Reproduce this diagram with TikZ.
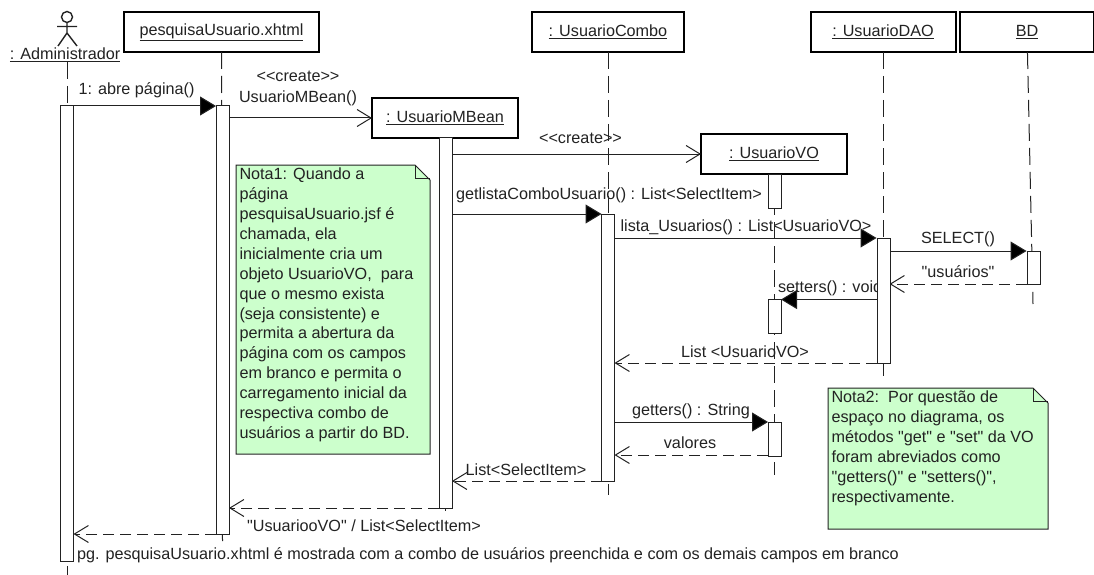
\documentclass[tikz,border=0pt]{standalone}
\usepackage{fontspec}
\newfontfamily\plainfont{Liberation Sans}
\usetikzlibrary{arrows.meta}
\definecolor{ink}{HTML}{222222}
\definecolor{notefill}{HTML}{CCFFCC}
\tikzset{
  x=1pt,y=-1pt,
  every node/.style={font=\plainfont\fontsize{16.2}{19.9}\selectfont,text=ink,inner sep=0pt,outer sep=0pt},
  headbox/.style={draw=black,line width=2pt,fill=white,rectangle},
  life/.style={draw=ink,line width=1pt,dash pattern=on 17pt off 7pt},
  activ/.style={draw=ink,line width=1pt,fill=white,rectangle,minimum width=13pt},
  callmsg/.style={draw=ink,line width=1pt,-{Triangle[length=16pt,width=19pt,fill=black]}},
  createmsg/.style={draw=ink,line width=1pt,-{Straight Barb[length=14pt,width=17pt,line width=1pt]}},
  retmsg/.style={draw=ink,line width=1pt,dash pattern=on 11pt off 6pt,-{Straight Barb[length=14pt,width=17pt,line width=1pt]}},
  notebody/.style={draw=ink,line width=1pt,fill=notefill},
  notetext/.style={anchor=north west,align=left},
}
\begin{document}
\begin{tikzpicture}
\useasboundingbox (0,0) rectangle (1094,575);
% heads
\node[headbox,minimum width=195pt,minimum height=40pt] (pes) at (221.5,32) {\underline{pesquisaUsuario.xhtml}};
\node[headbox,minimum width=146pt,minimum height=39pt] (mb) at (445,118) {\underline{: UsuarioMBean}};
\node[headbox,minimum width=152pt,minimum height=40pt] (combo) at (608,32) {\underline{: UsuarioCombo}};
\node[headbox,minimum width=146pt,minimum height=40pt] (vo) at (774,154) {\underline{: UsuarioVO}};
\node[headbox,minimum width=145pt,minimum height=40pt] (dao) at (883,32) {\underline{: UsuarioDAO}};
\node[headbox,minimum width=134pt,minimum height=40pt] (bd) at (1027,32) {\underline{BD}};
% actor
\node (adm) at (65,55) {\underline{: Administrador}};
\coordinate (head) at (67,17);
\draw[line width=1.4pt,draw=ink] (head) circle (5.5pt);
\draw[line width=1.4pt,draw=ink] (67,22.5) -- (67,33) (57,26.5) -- (77,26.5) (58,46) -- (67,33) -- (77,46);
% activation geometry
\coordinate (admT) at (67,106);
% lifelines
\coordinate (admEnd) at (67,575);
\coordinate (pesEnd) at (222.5,541);
\coordinate (mbEnd) at (445,511);
\coordinate (comEnd) at (608,495);
\coordinate (voEnd) at (774,475);
\coordinate (daoEnd) at (883,376);
\coordinate (bdEnd) at (1033,304);
\draw[life] (adm.south -| admT) -- (admEnd);
\draw[life] (pes) -- (pesEnd);
\draw[life] (mb) -- (mbEnd);
\draw[life] (combo) -- (comEnd);
\draw[life] (vo) -- (voEnd);
\draw[life] (dao) -- (daoEnd);
\draw[life] (bd) -- (bdEnd);
% activations
\node[activ,minimum height=455pt] (a1) at (67,333.5) {};
\node[activ,minimum height=428pt] (a2) at (222.5,320) {};
\node[activ,minimum height=371pt] (a3) at (445.5,322.5) {};
\node[activ,minimum height=267pt] (a4) at (608,347.5) {};
\node[activ,minimum height=34pt] (a5) at (774.5,191) {};
\node[activ,minimum height=34pt] (a6) at (774.5,316.5) {};
\node[activ,minimum height=34pt] (a7) at (774.5,439) {};
% notes
\draw[notebody] (236,165) -- (415,165) -- (430,180) -- (430,454) -- (236,454) -- cycle;
\draw[draw=ink,line width=1pt] (415,165) -- (415,178.5) -- (430,178.5);
\node[notetext] (n1) at (239.5,168) {Nota1: Quando a\\página\\pesquisaUsuario.jsf é\\chamada, ela\\inicialmente cria um\\objeto UsuarioVO,\ \ para\\que o mesmo exista\\(seja consistente) e\\permita a abertura da\\página com os campos\\em branco e permita o\\carregamento inicial da\\respectiva combo de\\usuários a partir do BD.};
\draw[notebody] (828,388) -- (1033,388) -- (1048,403) -- (1048,529) -- (828,529) -- cycle;
\draw[draw=ink,line width=1pt] (1033,388) -- (1033,401) -- (1048,401);
\node[notetext] (n2) at (831.5,391) {Nota2:\ \ Por questão de\\espaço no diagrama, os\\métodos "get" e "set" da VO\\foram abreviados como\\"getters()" e "setters()",\\respectivamente.};
% messages
\coordinate (m1a) at (73.5,106); \coordinate (m1b) at (216,106);
\draw[callmsg] (m1a) -- (m1b);
\node (l1) at (136.5,90) {1: abre página()};
\coordinate (m2a) at (229,118);
\draw[createmsg] (m2a) -- (mb.west);
\node (l2a) at (298,76) {<{}<create>{}>};
\node (l2b) at (298,98) {UsuarioMBean()};
\coordinate (m3a) at (452,154);
\draw[createmsg] (m3a) -- (vo.west);
\node (l3) at (580.5,138) {<{}<create>{}>};
\coordinate (m4a) at (452,214); \coordinate (m4b) at (601.5,214);
\draw[callmsg] (m4a) -- (m4b);
\node (l4) at (609,195) {getlistaComboUsuario() : List<SelectItem>};
\coordinate (m5a) at (614.5,238); \coordinate (m5b) at (876.5,238);
\draw[callmsg] (m5a) -- (m5b);
\node (l5) at (746,227) {lista\_Usuarios() : List<UsuarioVO>};
\coordinate (m6a) at (889.5,251); \coordinate (m6b) at (1026.5,251);
\draw[callmsg] (m6a) -- (m6b);
\node (l6) at (958,239) {SELECT()};
\coordinate (m7a) at (1026.5,284); \coordinate (m7b) at (889.5,284);
\draw[retmsg] (m7a) -- (m7b);
\node (l7) at (958,272) {"usuários"};
\coordinate (m8a) at (876.5,299.5); \coordinate (m8b) at (781,299.5);
\draw[callmsg] (m8a) -- (m8b);
\node[anchor=west] (l8) at (778,288) {setters() : void};
\coordinate (m9a) at (876.5,363); \coordinate (m9b) at (614.5,363);
\draw[retmsg] (m9a) -- (m9b);
\node (l9) at (745,352) {List <UsuarioVO>};
\coordinate (m10a) at (614.5,422); \coordinate (m10b) at (768,422);
\draw[callmsg] (m10a) -- (m10b);
\node (l10) at (691,411) {getters() : String};
\coordinate (m11a) at (768,455); \coordinate (m11b) at (614.5,455);
\draw[retmsg] (m11a) -- (m11b);
\node (l11) at (690,443) {valores};
\coordinate (m12a) at (601.5,481); \coordinate (m12b) at (452,481);
\draw[retmsg] (m12a) -- (m12b);
\node (l12) at (526,470) {List<SelectItem>};
\coordinate (m13a) at (439,508); \coordinate (m13b) at (229,508);
\draw[retmsg] (m13a) -- (m13b);
\node (l13) at (364,526) {"UsuariooVO" / List<SelectItem>};
\coordinate (m14a) at (216,534); \coordinate (m14b) at (73.5,534);
\draw[retmsg] (m14a) -- (m14b);
\node[anchor=west] (l14) at (77,555) {pg. pesquisaUsuario.xhtml é mostrada com a combo de usuários preenchida e com os demais campos em branco};
% bars over the messages
\node[activ,minimum height=125pt] (a8) at (883.5,300.5) {};
\node[activ,minimum height=33pt] (a9) at (1033.5,267.5) {};
\end{tikzpicture}
\end{document}
